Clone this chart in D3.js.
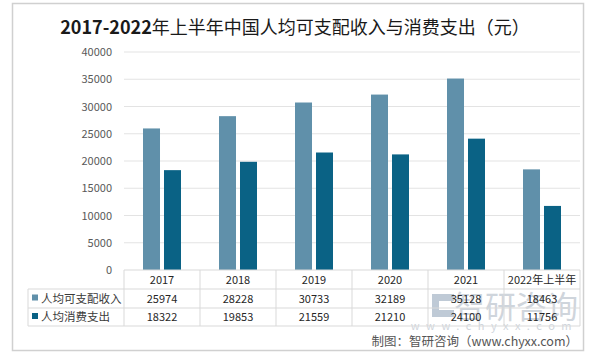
<!DOCTYPE html>
<html>
<head>
<meta charset="utf-8">
<script src="https://cdn.jsdelivr.net/npm/d3@7"></script>
<style>
  body { margin: 0; background: #fff; }
  svg text { font-family: "Noto Sans CJK SC", "Noto Sans", sans-serif; }
</style>
</head>
<body>
<div id="chart"></div>
<script>
var categories = ['2017', '2018', '2019', '2020', '2021', '2022年上半年'];
var seriesNames = ['人均可支配收入', '人均消费支出'];
var income = [25974, 28228, 30733, 32189, 35128, 18463];
var consumption = [18322, 19853, 21559, 21210, 24100, 11756];
var yTicks = [0, 5000, 10000, 15000, 20000, 25000, 30000, 35000, 40000];
var colors = ['#6090aa', '#0a6285'];

var w = 600, h = 353;
var svg = d3.select('#chart').append('svg').attr('width', w).attr('height', h);

// outer frame
svg.append('rect')
  .attr('x', 12.5).attr('y', 3.5).attr('width', 571).attr('height', 347)
  .attr('fill', 'none').attr('stroke', '#d0d0d0').attr('stroke-width', 1.5);

// title
var title = svg.append('text')
  .attr('x', 295).attr('y', 34)
  .attr('text-anchor', 'middle')
  .style('font-size', '18px')
  .attr('fill', '#1a1a1a');
title.append('tspan').attr('font-weight', 'bold').text('2017-2022');
title.append('tspan').attr('font-weight', 'normal').text('年上半年中国人均可支配收入与消费支出（元）');

var x = d3.scaleBand().domain(categories).range([124, 580]);
var x1 = d3.scaleBand().domain(seriesNames).range([-19, 19]).paddingInner(0.19);
var y = d3.scaleLinear().domain([0, 40000]).range([270, 52]);

// gridlines
svg.append('g').selectAll('line')
  .data(yTicks.filter(d => d > 0))
  .enter().append('line')
  .attr('x1', 124).attr('x2', 580)
  .attr('y1', d => y(d)).attr('y2', d => y(d))
  .attr('stroke', '#e3e3e3').attr('stroke-width', 1);

// y axis labels
var yAxis = d3.axisLeft(y).tickValues(yTicks).tickFormat(d3.format('d')).tickSize(0).tickPadding(12);
var gy = svg.append('g').attr('transform', 'translate(124,0)').call(yAxis);
gy.select('.domain').remove();
gy.selectAll('text').style('font-size', '11px').attr('fill', '#595959');

// bars
var data = [income, consumption];
data.forEach((vals, si) => {
  svg.append('g').selectAll('rect')
    .data(vals)
    .enter().append('rect')
    .attr('x', (d, i) => x(categories[i]) + x.bandwidth() / 2 + x1(seriesNames[si]))
    .attr('width', x1.bandwidth())
    .attr('y', d => y(d))
    .attr('height', d => y(0) - y(d))
    .attr('fill', colors[si]);
});

// watermark (sits behind the table text, as in the source image)
var wm = svg.append('g').attr('fill', '#cfd5dc');
wm.append('path')
  .attr('d', 'M432,294 h22 v7 h-15 v9 h15 v7 h-22 Z')
  .attr('fill', '#bfcad6');
wm.append('text').attr('x', 578).attr('y', 318).attr('text-anchor', 'end')
  .style('font-size', '31px').text('智研咨询');
wm.append('text').attr('x', 578).attr('y', 330).attr('text-anchor', 'end')
  .style('font-size', '11px').style('letter-spacing', '6.5px').text('www.chyxx.com');

// data table
var rowY = [270, 289, 308, 326];
var grid = svg.append('g').attr('stroke', '#d9d9d9').attr('stroke-width', 1);
grid.append('line').attr('x1', 124).attr('x2', 580).attr('y1', rowY[0]).attr('y2', rowY[0]);
rowY.slice(1).forEach(ry => {
  grid.append('line').attr('x1', 28).attr('x2', 580).attr('y1', ry).attr('y2', ry);
});
grid.append('line').attr('x1', 28).attr('x2', 28).attr('y1', rowY[1]).attr('y2', rowY[3]);
categories.forEach(c => {
  grid.append('line').attr('x1', x(c)).attr('x2', x(c)).attr('y1', rowY[0]).attr('y2', rowY[3]);
});
grid.append('line').attr('x1', 580).attr('x2', 580).attr('y1', rowY[0]).attr('y2', rowY[3]);

var tbl = svg.append('g').style('font-size', '11px').attr('fill', '#262626');
tbl.selectAll('text.cat')
  .data(categories)
  .enter().append('text')
  .attr('x', d => x(d) + x.bandwidth() / 2)
  .attr('y', (rowY[0] + rowY[1]) / 2 + 4)
  .attr('text-anchor', 'middle')
  .text(d => d);

data.forEach((vals, si) => {
  var cy = (rowY[si + 1] + rowY[si + 2]) / 2 + 4;
  tbl.append('g').selectAll('text')
    .data(vals)
    .enter().append('text')
    .attr('x', (d, i) => x(categories[i]) + x.bandwidth() / 2)
    .attr('y', cy)
    .attr('text-anchor', 'middle')
    .text(d => d);
  svg.append('rect')
    .attr('x', 32).attr('y', cy - 8).attr('width', 6).attr('height', 6)
    .attr('fill', colors[si]);
  svg.append('text')
    .attr('x', 41).attr('y', cy)
    .style('font-size', '11.5px').attr('fill', '#3a3a3a')
    .text(seriesNames[si]);
});

// source
svg.append('text')
  .attr('x', 578).attr('y', 346).attr('text-anchor', 'end')
  .style('font-size', '12.5px').attr('fill', '#555')
  .text('制图：智研咨询（www.chyxx.com）');
</script>
</body>
</html>
